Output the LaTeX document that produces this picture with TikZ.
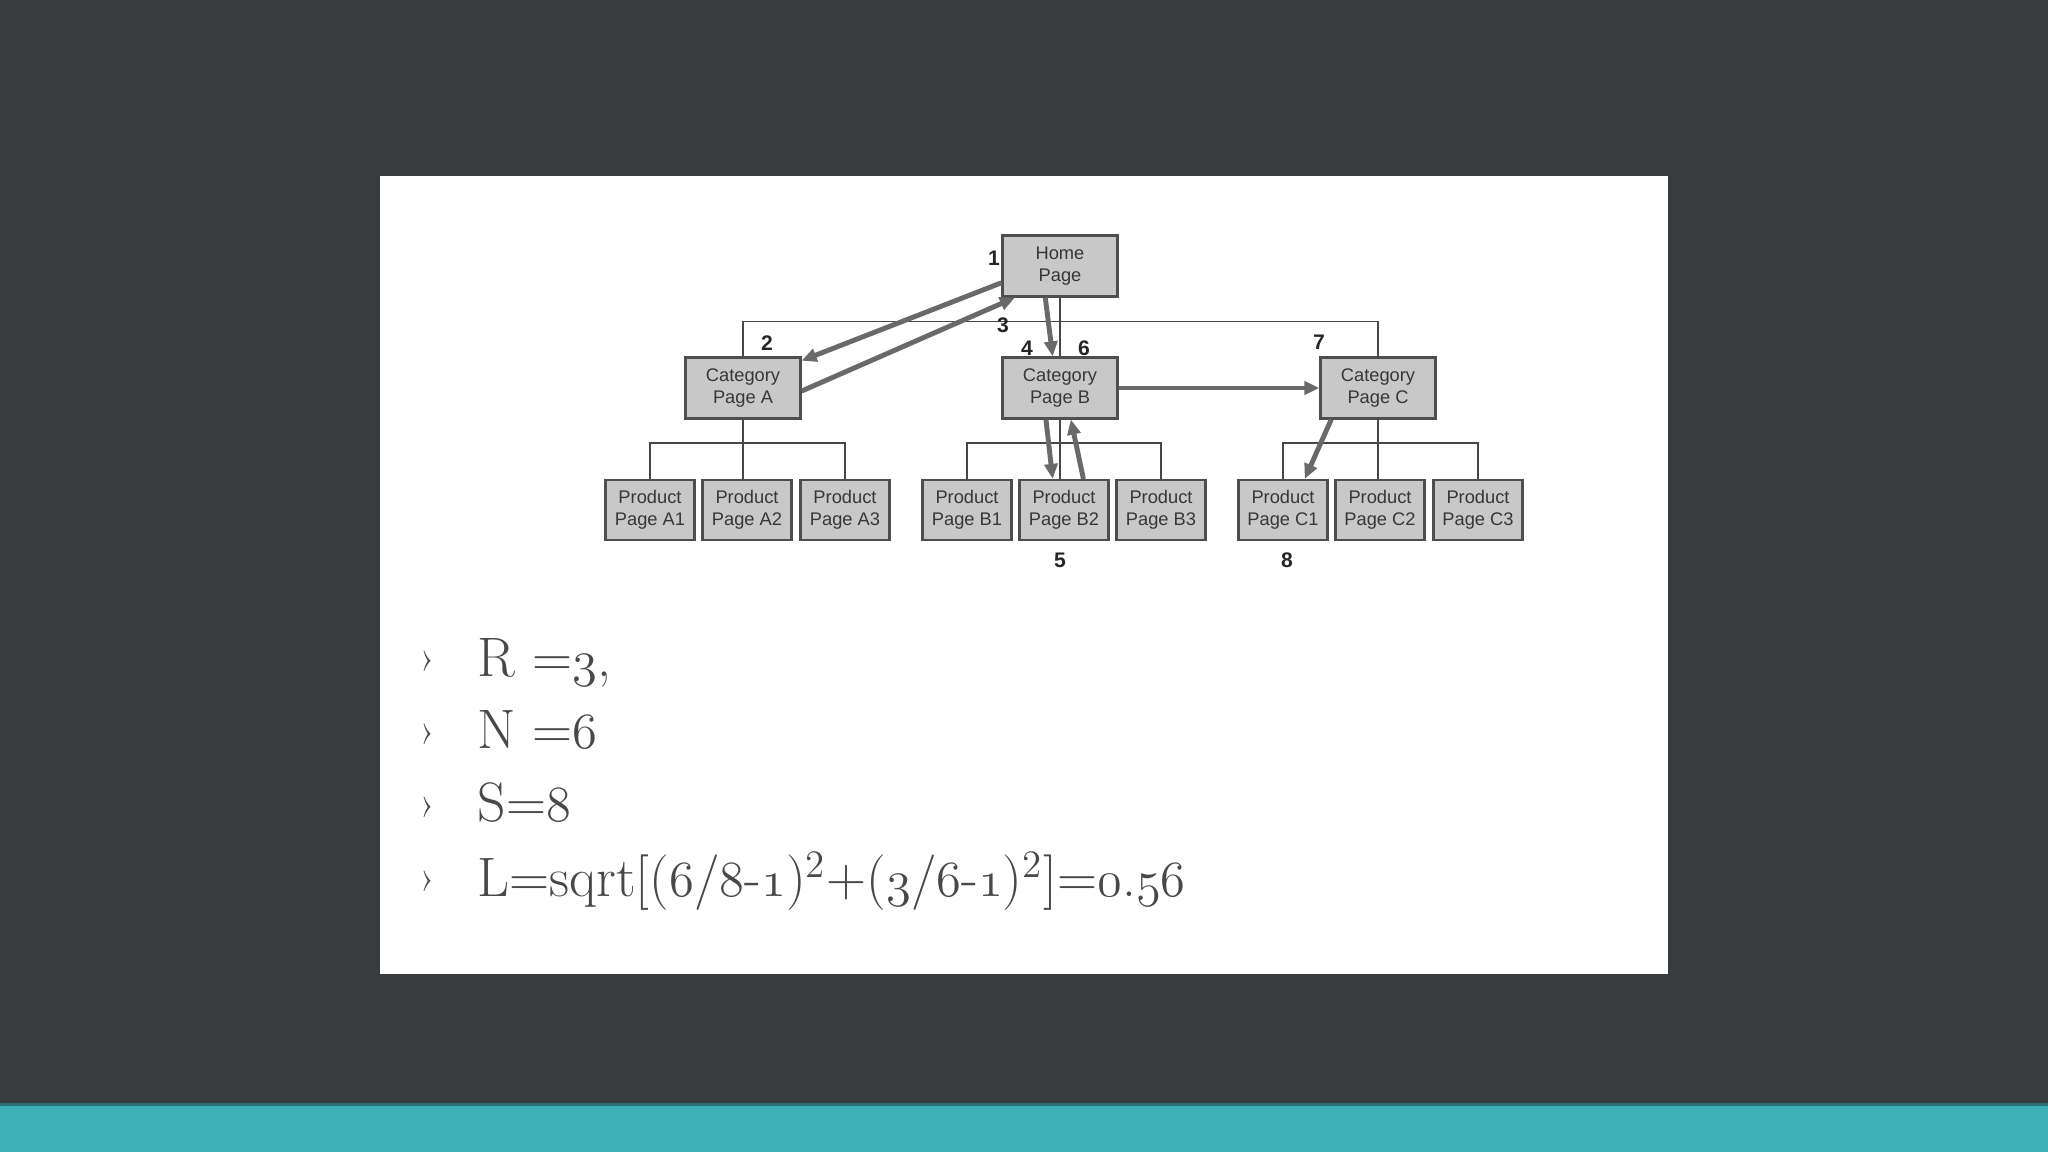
\documentclass[tikz,border=0pt]{standalone}
\usepackage{fontspec}
\usepackage{tikz}
\usetikzlibrary{arrows.meta}

\newfontfamily\diagfont{Liberation Sans}
\newcommand\osf[1]{{\usefont{OML}{cmm}{m}{it}#1}}

\definecolor{slidebg}{RGB}{56,60,63}
\definecolor{slideband}{RGB}{59,174,182}
\definecolor{bandedge}{RGB}{44,112,120}
\definecolor{boxfill}{RGB}{200,200,200}
\definecolor{boxedge}{RGB}{78,78,78}
\definecolor{boxtext}{RGB}{55,55,55}
\definecolor{treeline}{RGB}{70,70,70}
\definecolor{hopgray}{RGB}{105,105,105}
\definecolor{bullettext}{RGB}{72,72,72}

\tikzset{
  page/.style={draw=boxedge, fill=boxfill, line width=0.6pt, inner sep=0pt,
    align=center, minimum width=0.89cm, minimum height=0.60cm, text=boxtext,
    font=\diagfont\fontsize{5.2}{6.2}\selectfont},
  bigpage/.style={page, minimum width=1.15cm, minimum height=0.61cm},
  tree/.style={draw=treeline, line width=0.45pt},
  hop/.style={-{Triangle[length=0.15cm,width=0.13cm]}, line width=1.4pt, draw=hopgray},
  steplabel/.style={font=\diagfont\bfseries\fontsize{6}{7}\selectfont, text=black!85},
  bulletmark/.style={text=bullettext, font=\fontsize{12}{14}\selectfont, inner sep=0pt},
  bulletline/.style={anchor=base west, text=bullettext, inner sep=0pt,
    font=\fontsize{15.8}{19}\selectfont}
}

\begin{document}
\begin{tikzpicture}[x=0.01cm, y=-0.01cm]
        \useasboundingbox (0,0) rectangle (2048,1152);

        % --- Nền slide ---
        \fill[slidebg] (0,0) rectangle (2048,1152);
        \fill[slideband] (0,1104) rectangle (2048,1152);
        \fill[bandedge] (0,1103) rectangle (2048,1106);
        \fill[white] (380,176) rectangle (1668,974);

        % --- Trang chủ và trang danh mục ---
        \node[bigpage] (home) at (1060,266) {Home\\Page};
        \node[bigpage] (catA) at (743,388) {Category\\Page A};
        \node[bigpage] (catB) at (1060,388) {Category\\Page B};
        \node[bigpage] (catC) at (1378,388) {Category\\Page C};

        % --- Trang sản phẩm ---
        \node[page] (A1) at (650,510) {Product\\Page A1};
        \node[page] (A2) at (747,510) {Product\\Page A2};
        \node[page] (A3) at (845,510) {Product\\Page A3};
        \node[page] (B1) at (967,510) {Product\\Page B1};
        \node[page] (B2) at (1064,510) {Product\\Page B2};
        \node[page] (B3) at (1161,510) {Product\\Page B3};
        \node[page] (C1) at (1283,510) {Product\\Page C1};
        \node[page] (C2) at (1380,510) {Product\\Page C2};
        \node[page] (C3) at (1478,510) {Product\\Page C3};

        % --- Cây liên kết ---
        \draw[tree] (home) -- (catB);
        \draw[tree] (catA.north) -- ++(0,-35) -| (catC.north);
        \draw[tree] (A1.north) -- ++(0,-36) -| (A3.north);
        \draw[tree] (catA.south) -- (catA.south |- A2.north);
        \draw[tree] (B1.north) -- ++(0,-36) -| (B3.north);
        \draw[tree] (catB.south) -- (catB.south |- B2.north);
        \draw[tree] (C1.north) -- ++(0,-36) -| (C3.north);
        \draw[tree] (catC.south) -- (catC.south |- C2.north);

        % --- Các bước di chuyển 1..8 ---
        \draw[hop] (home.196) -- (catA.25);
        \draw[hop] (catA.357) -- (home.215);
        \draw[hop] (home.245) -- (catB.103);
        \draw[hop] (catB.246) -- (B2.110);
        \draw[hop] (B2.58) -- (catB.289);
        \draw[hop] (catB.east) -- (catC.west);
        \draw[hop] (catC.214) -- (C1.55);

        \node[steplabel] (s1) at (994,258) {1};
        \node[steplabel] (s2) at (767,343) {2};
        \node[steplabel] (s3) at (1003,325) {3};
        \node[steplabel] (s4) at (1027,348) {4};
        \node[steplabel] (s5) at (1060,560) {5};
        \node[steplabel] (s6) at (1084,348) {6};
        \node[steplabel] (s7) at (1319,342) {7};
        \node[steplabel] (s8) at (1287,560) {8};

        % --- Công thức ---
        \node[bulletmark] (m1) at (428,661) {›};
        \node[bulletmark] (m2) at (428,734) {›};
        \node[bulletmark] (m3) at (428,807) {›};
        \node[bulletmark] (m4) at (428,881) {›};
        \node[bulletline] (r) at (477,676) {R =\osf{3},};
        \node[bulletline] (n) at (477,748) {N =\osf{6}};
        \node[bulletline] (s) at (477,821) {S=\osf{8}};
        \node[bulletline] (l) at (477,896) {L=sqrt[(\osf{6}/\osf{8}-\osf{1})\textsuperscript{2}+(\osf{3}/\osf{6}-\osf{1})\textsuperscript{2}]=\osf{0}.\osf{56}};
\end{tikzpicture}
\end{document}
